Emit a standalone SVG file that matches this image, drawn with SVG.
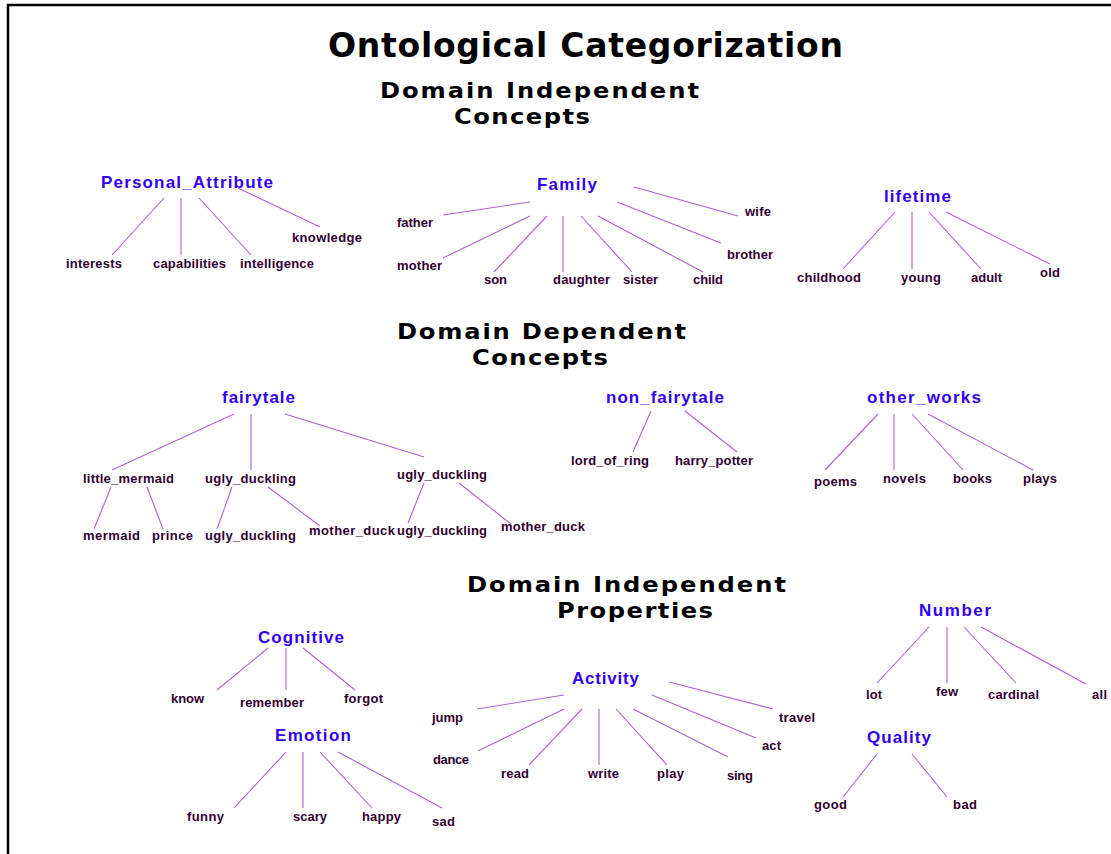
<svg xmlns="http://www.w3.org/2000/svg" width="1111" height="854" viewBox="0 0 1111 854">
<style>
.title{font-family:"DejaVu Sans",Verdana,sans-serif;font-weight:bold;fill:#000}
.cat{font-family:"Liberation Sans",Arial,sans-serif;font-weight:bold;font-size:17px;fill:#3300ee}
.leaf{font-family:"Liberation Sans",Arial,sans-serif;font-weight:bold;font-size:13px;fill:#300030}
.edge{stroke:#b060d0;stroke-width:1.1;fill:none}
.frame{stroke:#000;stroke-width:2.5;fill:none}
</style>
<rect width="1111" height="854" fill="#fff"/>
<g id="frame">
<line class="frame" x1="7" y1="5" x2="1111" y2="5"/>
<line class="frame" x1="8" y1="4" x2="8" y2="854"/>
</g>
<g id="headings">
<text class="title" x="328" y="57" font-size="33" textLength="515" lengthAdjust="spacing">Ontological Categorization</text>
<g transform="scale(1.1,1)">
<text class="title" x="345.45" y="98" font-size="22" textLength="290" lengthAdjust="spacing">Domain Independent</text>
<text class="title" x="412.73" y="124" font-size="22" textLength="123.6" lengthAdjust="spacing">Concepts</text>
<text class="title" x="360.91" y="339" font-size="22" textLength="262.7" lengthAdjust="spacing">Domain Dependent</text>
<text class="title" x="429.09" y="365" font-size="22" textLength="123.6" lengthAdjust="spacing">Concepts</text>
<text class="title" x="424.55" y="592" font-size="22" textLength="290" lengthAdjust="spacing">Domain Independent</text>
<text class="title" x="506.36" y="618" font-size="22" textLength="141.8" lengthAdjust="spacing">Properties</text>
</g>
</g>
<g id="connectors">
<!-- Personal_Attribute -->
<line class="edge" x1="164" y1="198" x2="112" y2="255"/>
<line class="edge" x1="181" y1="198" x2="181" y2="255"/>
<line class="edge" x1="199" y1="198" x2="251" y2="255"/>
<line class="edge" x1="238" y1="188" x2="320" y2="227"/>
<!-- Family -->
<line class="edge" x1="530" y1="202" x2="443" y2="215"/>
<line class="edge" x1="530" y1="216" x2="443" y2="258"/>
<line class="edge" x1="547" y1="216" x2="494" y2="272"/>
<line class="edge" x1="563" y1="216" x2="563" y2="272"/>
<line class="edge" x1="581" y1="216" x2="632" y2="272"/>
<line class="edge" x1="598" y1="216" x2="703" y2="272"/>
<line class="edge" x1="617" y1="202" x2="721" y2="243"/>
<line class="edge" x1="634" y1="187" x2="738" y2="216"/>
<!-- lifetime -->
<line class="edge" x1="895" y1="212" x2="843" y2="269"/>
<line class="edge" x1="912" y1="212" x2="912" y2="269"/>
<line class="edge" x1="929" y1="212" x2="981" y2="269"/>
<line class="edge" x1="946" y1="212" x2="1050" y2="264"/>
<!-- fairytale -->
<line class="edge" x1="234" y1="414" x2="112" y2="470"/>
<line class="edge" x1="251" y1="414" x2="251" y2="470"/>
<line class="edge" x1="285" y1="414" x2="424" y2="457"/>
<line class="edge" x1="111" y1="487" x2="94" y2="529"/>
<line class="edge" x1="147" y1="487" x2="163" y2="529"/>
<line class="edge" x1="232" y1="487" x2="217" y2="529"/>
<line class="edge" x1="268" y1="487" x2="320" y2="526"/>
<line class="edge" x1="424" y1="483" x2="408" y2="523"/>
<line class="edge" x1="459" y1="483" x2="511" y2="524"/>
<!-- non_fairytale -->
<line class="edge" x1="651" y1="411" x2="633" y2="452"/>
<line class="edge" x1="685" y1="411" x2="737" y2="452"/>
<!-- other_works -->
<line class="edge" x1="878" y1="414" x2="825" y2="470"/>
<line class="edge" x1="894" y1="414" x2="894" y2="470"/>
<line class="edge" x1="912" y1="414" x2="963" y2="470"/>
<line class="edge" x1="928" y1="414" x2="1033" y2="470"/>
<!-- Cognitive -->
<line class="edge" x1="268" y1="648" x2="217" y2="690"/>
<line class="edge" x1="286" y1="648" x2="286" y2="690"/>
<line class="edge" x1="303" y1="648" x2="355" y2="690"/>
<!-- Emotion -->
<line class="edge" x1="286" y1="752" x2="234" y2="808"/>
<line class="edge" x1="303" y1="752" x2="303" y2="808"/>
<line class="edge" x1="320" y1="752" x2="372" y2="808"/>
<line class="edge" x1="338" y1="752" x2="442" y2="808"/>
<!-- Activity -->
<line class="edge" x1="564" y1="695" x2="477" y2="709"/>
<line class="edge" x1="564" y1="709" x2="478" y2="751"/>
<line class="edge" x1="582" y1="709" x2="529" y2="765"/>
<line class="edge" x1="599" y1="709" x2="599" y2="765"/>
<line class="edge" x1="616" y1="709" x2="667" y2="765"/>
<line class="edge" x1="633" y1="709" x2="728" y2="757"/>
<line class="edge" x1="652" y1="695" x2="756" y2="738"/>
<line class="edge" x1="669" y1="682" x2="773" y2="709"/>
<!-- Number -->
<line class="edge" x1="929" y1="627" x2="877" y2="683"/>
<line class="edge" x1="947" y1="627" x2="947" y2="683"/>
<line class="edge" x1="964" y1="627" x2="1016" y2="683"/>
<line class="edge" x1="981" y1="627" x2="1086" y2="684"/>
<!-- Quality -->
<line class="edge" x1="877" y1="754" x2="843" y2="797"/>
<line class="edge" x1="912" y1="754" x2="947" y2="797"/>
</g>
<g id="Personal_Attribute">
<text class="cat" x="101" y="188" textLength="172" lengthAdjust="spacing">Personal_Attribute</text>
<text class="leaf" x="66" y="268" textLength="56" lengthAdjust="spacing">interests</text>
<text class="leaf" x="153" y="268" textLength="73" lengthAdjust="spacing">capabilities</text>
<text class="leaf" x="240" y="268" textLength="74" lengthAdjust="spacing">intelligence</text>
<text class="leaf" x="292" y="242" textLength="70" lengthAdjust="spacing">knowledge</text>
</g>
<g id="Family">
<text class="cat" x="537" y="190" textLength="60" lengthAdjust="spacing">Family</text>
<text class="leaf" x="397" y="227" textLength="36" lengthAdjust="spacing">father</text>
<text class="leaf" x="397" y="270" textLength="45" lengthAdjust="spacing">mother</text>
<text class="leaf" x="484" y="284" textLength="23" lengthAdjust="spacing">son</text>
<text class="leaf" x="553" y="284" textLength="57" lengthAdjust="spacing">daughter</text>
<text class="leaf" x="623" y="284" textLength="35" lengthAdjust="spacing">sister</text>
<text class="leaf" x="693" y="284" textLength="30" lengthAdjust="spacing">child</text>
<text class="leaf" x="727" y="259" textLength="46" lengthAdjust="spacing">brother</text>
<text class="leaf" x="745" y="216" textLength="26" lengthAdjust="spacing">wife</text>
</g>
<g id="lifetime">
<text class="cat" x="884" y="202" textLength="67" lengthAdjust="spacing">lifetime</text>
<text class="leaf" x="797" y="282" textLength="64" lengthAdjust="spacing">childhood</text>
<text class="leaf" x="901" y="282" textLength="40" lengthAdjust="spacing">young</text>
<text class="leaf" x="971" y="282" textLength="31" lengthAdjust="spacing">adult</text>
<text class="leaf" x="1040" y="277" textLength="20" lengthAdjust="spacing">old</text>
</g>
<g id="fairytale">
<text class="cat" x="222" y="403" textLength="73" lengthAdjust="spacing">fairytale</text>
<text class="leaf" x="83" y="483" textLength="91" lengthAdjust="spacing">little_mermaid</text>
<text class="leaf" x="205" y="483" textLength="91" lengthAdjust="spacing">ugly_duckling</text>
<text class="leaf" x="397" y="479" textLength="90" lengthAdjust="spacing">ugly_duckling</text>
<text class="leaf" x="83" y="540" textLength="57" lengthAdjust="spacing">mermaid</text>
<text class="leaf" x="152" y="540" textLength="41" lengthAdjust="spacing">prince</text>
<text class="leaf" x="205" y="540" textLength="91" lengthAdjust="spacing">ugly_duckling</text>
<text class="leaf" x="309" y="535" textLength="86" lengthAdjust="spacing">mother_duck</text>
<text class="leaf" x="397" y="535" textLength="90" lengthAdjust="spacing">ugly_duckling</text>
<text class="leaf" x="501" y="531" textLength="84" lengthAdjust="spacing">mother_duck</text>
</g>
<g id="non_fairytale">
<text class="cat" x="606" y="403" textLength="118" lengthAdjust="spacing">non_fairytale</text>
<text class="leaf" x="571" y="465" textLength="78" lengthAdjust="spacing">lord_of_ring</text>
<text class="leaf" x="675" y="465" textLength="78" lengthAdjust="spacing">harry_potter</text>
</g>
<g id="other_works">
<text class="cat" x="867" y="403" textLength="114" lengthAdjust="spacing">other_works</text>
<text class="leaf" x="814" y="486" textLength="43" lengthAdjust="spacing">poems</text>
<text class="leaf" x="883" y="483" textLength="43" lengthAdjust="spacing">novels</text>
<text class="leaf" x="953" y="483" textLength="39" lengthAdjust="spacing">books</text>
<text class="leaf" x="1023" y="483" textLength="34" lengthAdjust="spacing">plays</text>
</g>
<g id="Cognitive">
<text class="cat" x="258" y="643" textLength="86" lengthAdjust="spacing">Cognitive</text>
<text class="leaf" x="171" y="703" textLength="33" lengthAdjust="spacing">know</text>
<text class="leaf" x="240" y="707" textLength="64" lengthAdjust="spacing">remember</text>
<text class="leaf" x="344" y="703" textLength="39" lengthAdjust="spacing">forgot</text>
</g>
<g id="Emotion">
<text class="cat" x="275" y="741" textLength="76" lengthAdjust="spacing">Emotion</text>
<text class="leaf" x="187" y="821" textLength="37" lengthAdjust="spacing">funny</text>
<text class="leaf" x="293" y="821" textLength="34" lengthAdjust="spacing">scary</text>
<text class="leaf" x="362" y="821" textLength="39" lengthAdjust="spacing">happy</text>
<text class="leaf" x="432" y="826" textLength="23" lengthAdjust="spacing">sad</text>
</g>
<g id="Activity">
<text class="cat" x="572" y="684" textLength="67" lengthAdjust="spacing">Activity</text>
<text class="leaf" x="432" y="722" textLength="31" lengthAdjust="spacing">jump</text>
<text class="leaf" x="433" y="764" textLength="36" lengthAdjust="spacing">dance</text>
<text class="leaf" x="501" y="778" textLength="28" lengthAdjust="spacing">read</text>
<text class="leaf" x="588" y="778" textLength="31" lengthAdjust="spacing">write</text>
<text class="leaf" x="657" y="778" textLength="27" lengthAdjust="spacing">play</text>
<text class="leaf" x="727" y="780" textLength="26" lengthAdjust="spacing">sing</text>
<text class="leaf" x="762" y="750" textLength="19" lengthAdjust="spacing">act</text>
<text class="leaf" x="779" y="722" textLength="36" lengthAdjust="spacing">travel</text>
</g>
<g id="Number">
<text class="cat" x="919" y="616" textLength="72" lengthAdjust="spacing">Number</text>
<text class="leaf" x="866" y="699" textLength="16" lengthAdjust="spacing">lot</text>
<text class="leaf" x="936" y="696" textLength="22" lengthAdjust="spacing">few</text>
<text class="leaf" x="988" y="699" textLength="51" lengthAdjust="spacing">cardinal</text>
<text class="leaf" x="1092" y="699" textLength="15" lengthAdjust="spacing">all</text>
</g>
<g id="Quality">
<text class="cat" x="867" y="743" textLength="64" lengthAdjust="spacing">Quality</text>
<text class="leaf" x="814" y="809" textLength="33" lengthAdjust="spacing">good</text>
<text class="leaf" x="953" y="809" textLength="24" lengthAdjust="spacing">bad</text>
</g>
</svg>
